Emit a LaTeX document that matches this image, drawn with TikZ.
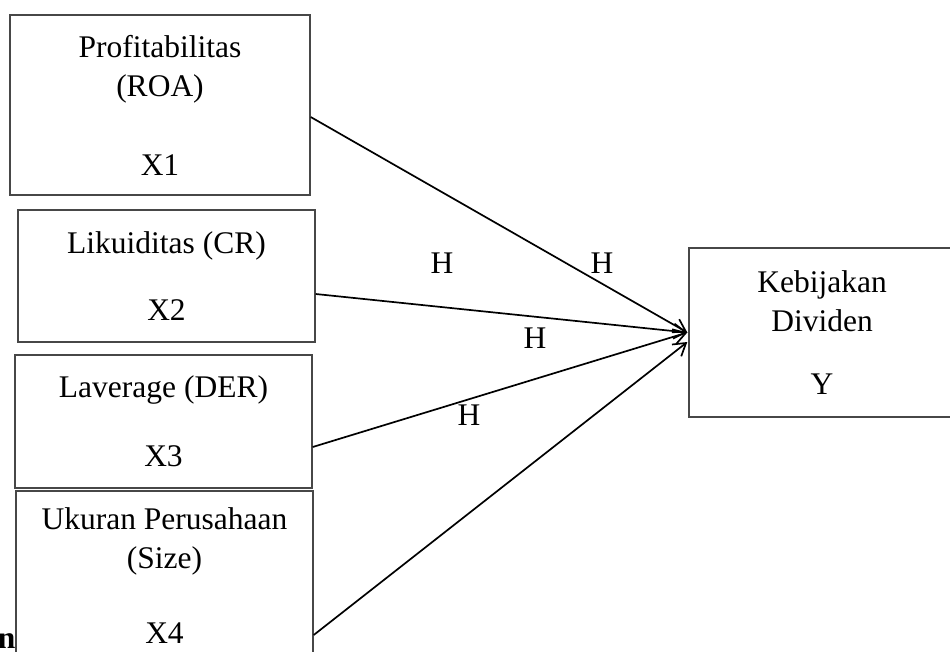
\documentclass[tikz,border=0pt]{standalone}
\usepackage{fontspec}
\setmainfont{Liberation Serif}
\usetikzlibrary{arrows.meta}

\begin{document}
\begin{tikzpicture}[
    x=1pt,
    y=-1pt,
    font=\fontsize{31.5}{39}\selectfont,
    >={Straight Barb[length=12pt,width=15pt]},
    box/.style={
        draw=black!72,
        line width=1.4pt,
        align=center,
        inner sep=0pt
    },
    hlabel/.style={
        inner sep=0pt
    },
    arrow/.style={
        ->,
        line width=1.7pt,
        draw=black
    }
]
\useasboundingbox (0,0) rectangle (950,651);
\clip (0,0) rectangle (950,651);

\node[box, minimum width=300, minimum height=180] (x1) at (160,105) {Profitabilitas\\(ROA)\\[40pt]X1};
\node[box, minimum width=297, minimum height=132] (x2) at (166.5,276) {Likuiditas (CR)\\[28pt]X2};
\node[box, minimum width=297, minimum height=133] (x3) at (163.5,421.5) {Laverage (DER)\\[30pt]X3};
\node[box, minimum width=297, minimum height=169] (x4) at (164.5,575.5) {Ukuran Perusahaan\\(Size)\\[36pt]X4};

\node[box, minimum width=266, minimum height=169] (y) at (822,332.5) {Kebijakan\\Dividen\\[24pt]Y};

\node[hlabel] (h1) at (442,263) {H};
\node[hlabel] (h2) at (602,263) {H};
\node[hlabel] (h3) at (535,338) {H};
\node[hlabel] (h4) at (469,415) {H};

\node[inner sep=0pt, anchor=base east, font=\fontsize{31.5}{39}\selectfont\bfseries] (ncut) at (15.5,648) {n};

\draw[arrow] ([yshift=-12pt]x1.east) -- ([xshift=-1pt]y.west);
\draw[arrow] ([yshift=-18pt]x2.east) -- ([xshift=-1pt]y.west);
\draw[arrow] ([yshift=-25.5pt]x3.east) -- ([xshift=-1pt]y.west);
\draw[arrow] ([yshift=-59.5pt]x4.east) -- ([xshift=-1pt,yshift=-9.5pt]y.west);

\end{tikzpicture}
\end{document}
